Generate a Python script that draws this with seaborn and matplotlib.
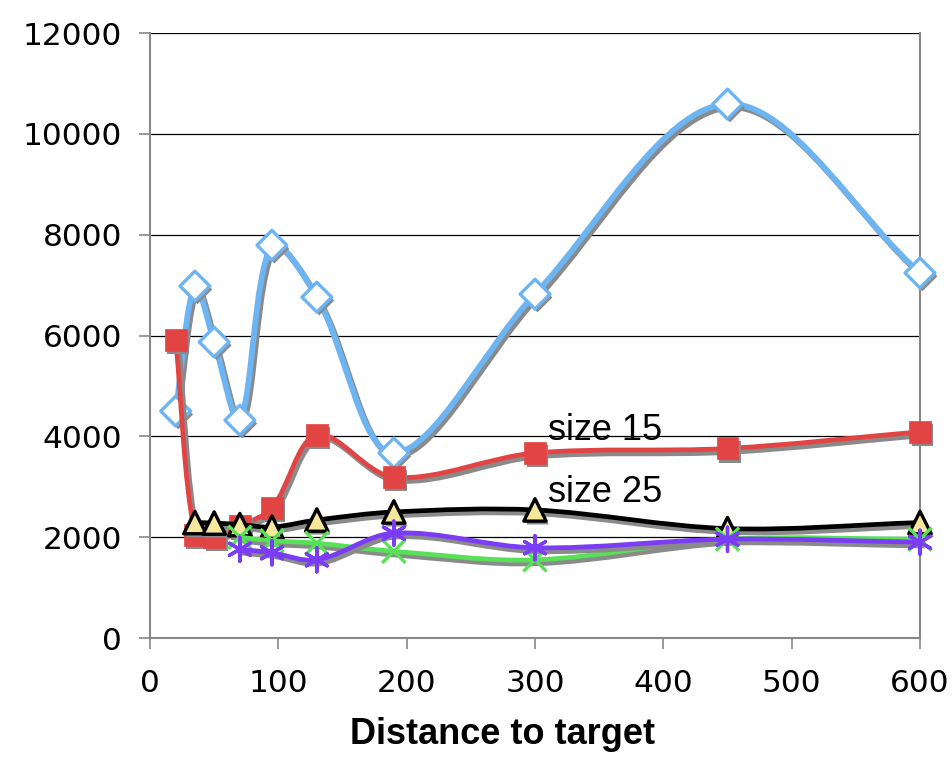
import numpy as np
import pandas as pd
import seaborn as sns
import matplotlib
matplotlib.use("Agg")
import matplotlib.pyplot as plt
import matplotlib.patheffects as pe
from matplotlib.path import Path
from matplotlib.patches import PathPatch

# ---- data -------------------------------------------------------------
dist_all = [20, 35, 50, 70, 95, 130, 190, 300, 450, 600]
dist_tri = [35, 50, 70, 95, 130, 190, 300, 450, 600]
dist_low = [70, 95, 130, 190, 300, 450, 600]

blue_vals = [4500, 6980, 5870, 4320, 7790, 6760, 3670, 6820, 10590, 7240]
red_vals = [5910, 2040, 2000, 2220, 2580, 4030, 3190, 3670, 3760, 4090]
black_vals = [2290, 2280, 2250, 2200, 2340, 2500, 2540, 2170, 2290]
green_vals = [2000, 1930, 1880, 1720, 1550, 1960, 1960]
purple_vals = [1760, 1690, 1550, 2080, 1790, 1960, 1900]

x_ticks = [0, 100, 200, 300, 400, 500, 600]
y_ticks = [0, 2000, 4000, 6000, 8000, 10000, 12000]

series = [
    # name, x, y, line colour, line width, marker, size, face, edge, edge width
    ("blue", dist_all, blue_vals, "#6cb4f2", 4.2, "D", 230, "white", "#6cb4f2", 2.4),
    ("red", dist_all, red_vals, "#e24444", 3.4, "s", 250, "#e24444", "#e24444", 0.5),
    ("black", dist_tri, black_vals, "black", 3.4, "^", 260, "#f6e79c", "black", 2.4),
    ("green", dist_low, green_vals, "#58e058", 3.4, "x", 280, "#58e058", "#58e058", 2.4),
    ("purple", dist_low, purple_vals, "#7a3cf4", 3.4, (6, 2, 0), 300, "#7a3cf4", "#7a3cf4", 2.4),
]

X_MAX, Y_MAX = 600, 12000

# ---- style --------------------------------------------------------------
sns.set_style("white")
plt.rcParams["font.family"] = ["DejaVu Sans"]
plt.rcParams["text.color"] = "black"

fig = plt.figure(figsize=(9.53, 7.57), dpi=100)
ax = fig.add_axes([150 / 953, 1 - 638 / 757, 770 / 953, 605 / 757])

shadow_line = [pe.SimpleLineShadow(offset=(1.8, -2.4), shadow_color="#8a8a8a", alpha=1.0,
                                   linewidth=4.2), pe.Normal()]
shadow_mark = [pe.SimplePatchShadow(offset=(1.8, -2.4), shadow_rgbFace="#8a8a8a", alpha=1.0,
                                    foreground="#8a8a8a"), pe.Normal()]


def smooth_path(xs, ys):
    """Cubic Bezier path through the points; tangents are split in
    proportion to the on-screen lengths of the neighbouring segments."""
    pts = np.column_stack([xs, ys]).astype(float)
    scale = np.array([770.0 / X_MAX, 605.0 / Y_MAX])
    n = len(pts)

    def seglen(a, b):
        return float(np.hypot(*((pts[b] - pts[a]) * scale)))

    out_ctrl, in_ctrl = [], []
    for i in range(n):
        prev_i = max(i - 1, 0)
        next_i = min(i + 1, n - 1)
        tangent = pts[next_i] - pts[prev_i]
        d_in = seglen(prev_i, i)
        d_out = seglen(i, next_i)
        total = d_in + d_out
        if total == 0:
            w_in = w_out = 0.0
        else:
            w_in, w_out = d_in / total, d_out / total
        out_ctrl.append(pts[i] + tangent * w_out / 3.0)
        in_ctrl.append(pts[i] - tangent * w_in / 3.0)

    verts = [pts[0]]
    codes = [Path.MOVETO]
    for i in range(n - 1):
        verts += [out_ctrl[i], in_ctrl[i + 1], pts[i + 1]]
        codes += [Path.CURVE4] * 3
    return Path(verts, codes)


for z, (name, xs, ys, lc, lw, mk, ms, fc, ec, ew) in enumerate(series):
    patch = PathPatch(smooth_path(xs, ys), fill=False, edgecolor=lc, linewidth=lw,
                      capstyle="round", joinstyle="round", zorder=3 + 2 * z, clip_on=False)
    patch.set_path_effects(shadow_line)
    ax.add_patch(patch)
    df = pd.DataFrame({"d": xs, "v": ys})
    sns.scatterplot(data=df, x="d", y="v", ax=ax, marker=mk, s=ms, color=fc,
                    edgecolor=ec, linewidth=ew, zorder=4 + 2 * z, clip_on=False,
                    path_effects=shadow_mark, legend=False)

# ---- annotations ---------------------------------------------------------
ax.text(310, 3930, "size 15", fontsize=26, family="Liberation Sans", color="black", zorder=20)
ax.text(310, 2700, "size 25", fontsize=26, family="Liberation Sans", color="black", zorder=20)

# ---- axes ----------------------------------------------------------------
ax.set_xlim(0, X_MAX)
ax.set_ylim(0, Y_MAX)
ax.set_xticks(x_ticks)
ax.set_yticks(y_ticks)
ax.set_xticklabels([str(t) for t in x_ticks])
ax.set_yticklabels([str(t) for t in y_ticks])
ax.yaxis.grid(True, color="black", linewidth=0.9)
ax.set_axisbelow(True)

for side in ["left", "bottom", "right"]:
    ax.spines[side].set_color("#888888")
    ax.spines[side].set_linewidth(1.5)
ax.spines["top"].set_visible(False)

ax.tick_params(axis="both", direction="out", length=8, width=1.2, color="#888888",
               labelsize=22.5, labelcolor="black")
ax.tick_params(axis="y", pad=12, left=True)
ax.tick_params(axis="x", pad=14, bottom=True)

ax.set_xlabel("Distance to target", fontsize=26, fontweight="bold",
              family="Liberation Sans", color="black")
ax.set_ylabel("")
ax.xaxis.set_label_coords(0.458, -0.13)

fig.savefig("out.png", dpi=100, facecolor="white")
